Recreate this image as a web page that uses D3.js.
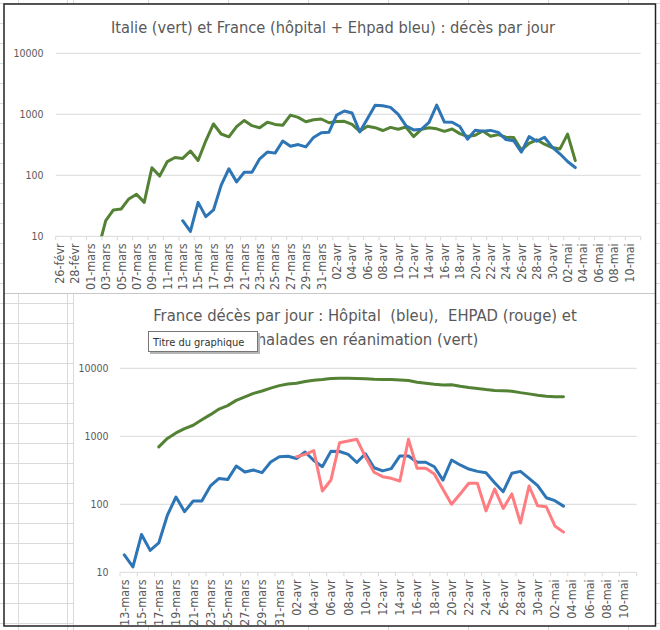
<html lang="fr">
<head>
<meta charset="UTF-8">
<script src="https://d3js.org/d3.v7.min.js"></script>
<title>Décès par jour</title>
<style>
  body { margin: 0; background: #fff; }
  text { font-family: 'Liberation Sans Narrow', 'DejaVu Sans Condensed', 'Open Sans', sans-serif; }
</style>
<script>
// categories (days) and month labels
var moisCourts = ["janv", "févr", "mars", "avr", "mai", "juin"];
var joursHaut = d3.timeDay.range(new Date(2020, 1, 26), new Date(2020, 4, 12));
var joursBas = d3.timeDay.range(new Date(2020, 2, 13), new Date(2020, 4, 12));
var graduationsY = [10, 100, 1000, 10000];

// chart 1 : Italie (vert), France hôpital + Ehpad (bleu)
var italieDebut = new Date(2020, 2, 2);
var italie = [6, 18, 27, 28, 41, 49, 36, 133, 97, 168, 196, 189, 250, 175, 368,
  694, 475, 427, 627, 793, 651, 601, 743, 683, 662, 969, 889, 756, 812, 837, 727,
  760, 766, 681, 525, 636, 604, 542, 610, 570, 619, 431, 566, 602, 578, 525, 575,
  482, 433, 454, 534, 437, 464, 420, 415, 260, 333, 382, 323, 285, 269, 474, 174];
var franceDebut = new Date(2020, 2, 13);
var franceTotal = [18, 12, 36, 21, 27, 69, 128, 78, 112, 112, 186, 240, 231, 365, 299,
  319, 292, 418, 499, 509, 972, 1131, 1050, 514, 845, 1410, 1385, 1300, 1000, 650,
  555, 568, 735, 1415, 745, 740, 630, 390, 550, 530, 545, 505, 385, 370, 240, 430,
  362, 420, 290, 225, 168, 134];

// chart 2 : hôpital (bleu), EHPAD (rouge), réanimation (vert)
var hopitalDebut = new Date(2020, 2, 13);
var hopital = [18, 12, 36, 21, 27, 69, 128, 78, 112, 112, 186, 240, 231, 365, 299,
  319, 292, 418, 499, 509, 471, 588, 441, 357, 605, 597, 541, 412, 554, 345, 310,
  335, 514, 512, 415, 415, 357, 227, 448, 379, 330, 305, 291, 208, 153, 286, 305,
  241, 188, 125, 113, 94];
var ehpadDebut = new Date(2020, 3, 2);
var ehpad = [501, 543, 615, 157, 228, 805, 853, 903, 501, 296, 255, 241, 220, 903,
  338, 338, 279, 166, 100, 142, 204, 204, 80, 168, 87, 142, 53, 186, 95, 92, 48, 39];
var reaDebut = new Date(2020, 2, 17);
var rea = [699, 931, 1122, 1297, 1453, 1746, 2082, 2516, 2827, 3375, 3787, 4273,
  4632, 5107, 5565, 5872, 6017, 6399, 6662, 6838, 7072, 7131, 7148, 7066, 7004,
  6883, 6821, 6845, 6730, 6599, 6248, 6027, 5833, 5683, 5744, 5433, 5218, 5053,
  4870, 4725, 4682, 4608, 4387, 4207, 4019, 3878, 3827, 3819];

var VERT = "#548235", BLEU = "#2e75b6", ROUGE = "#ff7c80";
var GRILLE = "#d9d9d9", TEXTE = "#595959", CELLULE = "#dadada";

function serie(debut, valeurs) {
  return valeurs.map(function(v, i) { return { date: d3.timeDay.offset(debut, i), v: v }; });
}
function etiquette(t) {
  var d = new Date(t);
  return d3.timeFormat("%d")(d) + "-" + moisCourts[d.getMonth()];
}

function graphique(svg, o) {
  var x = d3.scaleBand().domain(o.jours.map(function(d) { return +d; })).range([o.x0, o.x1]);
  var y = d3.scaleLog().domain([10, 10000]).range([o.y0, o.y1]);
  var bw = x.bandwidth();
  var g = svg.append("g");

  g.selectAll(".grid").data(graduationsY).enter().append("line")
    .attr("x1", o.x0).attr("x2", o.x1)
    .attr("y1", function(d) { return y(d); }).attr("y2", function(d) { return y(d); })
    .attr("stroke", GRILLE).attr("stroke-width", 1);

  g.selectAll(".ylab").data(graduationsY).enter().append("text")
    .attr("x", o.labX).attr("y", function(d) { return y(d) + 4; })
    .attr("text-anchor", "end").attr("fill", TEXTE).attr("font-size", 10.5)
    .text(function(d) { return d; });

  var pairs = o.jours.filter(function(d, i) { return i % 2 === 0; }).map(function(d) { return +d; });
  g.selectAll(".tick2").data(pairs).enter().append("line")
    .attr("x1", function(d) { return x(d); }).attr("x2", function(d) { return x(d); })
    .attr("y1", o.y0).attr("y2", o.y0 + 4).attr("stroke", GRILLE);
  g.append("line").attr("x1", o.x1).attr("x2", o.x1).attr("y1", o.y0).attr("y2", o.y0 + 4).attr("stroke", GRILLE);

  var ax = g.append("g").attr("transform", "translate(0," + o.y0 + ")")
    .call(d3.axisBottom(x).tickValues(pairs).tickFormat(etiquette).tickSize(0).tickPadding(0));
  ax.select(".domain").remove();
  ax.selectAll("text")
    .attr("transform", "rotate(-90)").attr("x", -7).attr("y", 0).attr("dy", "0.35em")
    .attr("text-anchor", "end").attr("fill", TEXTE).attr("font-size", 12.5)
    .attr("font-family", "'Liberation Sans Narrow', 'DejaVu Sans Condensed', sans-serif");

  var clipId = "clip" + o.id;
  svg.append("clipPath").attr("id", clipId).append("rect")
    .attr("x", o.x0).attr("y", o.y1 - 5).attr("width", o.x1 - o.x0).attr("height", o.y0 - o.y1 + 5);

  var ligne = d3.line()
    .x(function(d) { return x(+d.date) + bw / 2; })
    .y(function(d) { return y(d.v); });

  o.series.forEach(function(s) {
    g.append("path").datum(s.data)
      .attr("clip-path", "url(#" + clipId + ")")
      .attr("fill", "none").attr("stroke", s.couleur).attr("stroke-width", 3)
      .attr("stroke-linejoin", "round").attr("stroke-linecap", "round")
      .attr("d", ligne);
  });
}

function main() {
  var svg = d3.select("svg");

  // spreadsheet cells behind the charts
  var cel = svg.append("g").attr("stroke", CELLULE).attr("stroke-width", 1);
  d3.range(0, 32).forEach(function(k) {
    cel.append("line").attr("x1", 0).attr("x2", 660).attr("y1", 3.5 + 20 * k).attr("y2", 3.5 + 20 * k);
  });
  [18.5, 67.5, 73.5].forEach(function(cx) {
    cel.append("line").attr("x1", cx).attr("x2", cx).attr("y1", 0).attr("y2", 630);
  });
  d3.range(0, 8).forEach(function(k) {
    var cx = 148.5 + 80 * k;
    cel.append("line").attr("x1", cx).attr("x2", cx).attr("y1", 0).attr("y2", 630);
  });

  svg.append("rect").attr("x", 4).attr("y", 4).attr("width", 652).attr("height", 289).attr("fill", "#fff");
  svg.append("rect").attr("x", 74).attr("y", 294).attr("width", 582).attr("height", 332).attr("fill", "#fff");

  svg.append("line").attr("x1", 4).attr("x2", 656).attr("y1", 293.5).attr("y2", 293.5).attr("stroke", "#c8c8c8");
  svg.append("rect").attr("x", 4).attr("y", 4).attr("width", 651.5).attr("height", 622)
    .attr("fill", "none").attr("stroke", "#222").attr("stroke-width", 1.5);

  // chart 1
  svg.append("text").attr("x", 333).attr("y", 33).attr("text-anchor", "middle")
    .attr("fill", TEXTE).attr("font-size", 16.3)
    .text("Italie (vert) et France (hôpital + Ehpad bleu) : décès par jour");
  graphique(svg, {
    id: 1, jours: joursHaut, x0: 55.7, x1: 640.7, y0: 236.3, y1: 53.3, labX: 43.5,
    series: [
      { data: serie(italieDebut, italie), couleur: VERT },
      { data: serie(franceDebut, franceTotal), couleur: BLEU }
    ]
  });

  // chart 2
  svg.append("text").attr("x", 365).attr("y", 321).attr("text-anchor", "middle")
    .attr("fill", TEXTE).attr("font-size", 16.5).attr("xml:space", "preserve")
    .text("France décès par jour : Hôpital  (bleu),  EHPAD (rouge) et");
  svg.append("text").attr("x", 365).attr("y", 345).attr("text-anchor", "middle")
    .attr("fill", TEXTE).attr("font-size", 16.5)
    .text("malades en réanimation (vert)");
  graphique(svg, {
    id: 2, jours: joursBas, x0: 120, x1: 636.7, y0: 572.3, y1: 368.3, labX: 108.5,
    series: [
      { data: serie(hopitalDebut, hopital), couleur: BLEU },
      { data: serie(ehpadDebut, ehpad), couleur: ROUGE },
      { data: serie(reaDebut, rea), couleur: VERT }
    ]
  });

  // tooltip over the second title
  svg.append("rect").attr("x", 150).attr("y", 333).attr("width", 110).attr("height", 21).attr("fill", "#b5b5b5");
  svg.append("rect").attr("x", 148.5).attr("y", 331.5).attr("width", 109).attr("height", 20)
    .attr("fill", "#fff").attr("stroke", "#767676");
  svg.append("text").attr("x", 153).attr("y", 346).attr("fill", "#333").attr("font-size", 11)
    .text("Titre du graphique");
}
</script>
</head>
<body onload="main();">
<svg width="660" height="630"></svg>
</body>
</html>
